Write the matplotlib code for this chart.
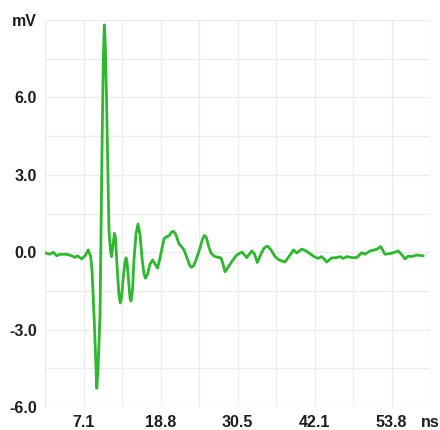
import matplotlib
matplotlib.use('Agg')
import matplotlib.pyplot as plt

# Время, нс
t_ns = [1.25, 2.01, 2.51, 3.03, 3.53, 4.55, 5.31, 5.81, 6.16, 6.83,
        7.33, 7.83, 8.19, 8.39, 8.70, 8.92, 9.12, 9.30, 9.61, 9.91,
        10.11, 10.26, 10.41, 10.60, 10.97, 11.20, 11.35, 11.58, 11.81, 11.96,
        12.19, 12.49, 12.69, 12.87, 13.10, 13.41, 13.56, 13.71, 13.94, 14.17,
        14.32, 14.55, 14.77, 15.08, 15.38, 15.69, 15.99, 16.29, 16.52, 16.83,
        17.21, 17.59, 17.97, 18.35, 18.73, 19.03, 19.33, 19.64, 20.09, 20.47,
        20.78, 21.08, 21.31, 21.61, 21.92, 22.37, 22.83, 23.21, 23.51, 23.82,
        24.20, 24.80, 25.18, 25.49, 25.79, 26.09, 26.47, 26.93, 27.38, 27.99,
        28.29, 28.60, 28.90, 29.62, 30.38, 31.18, 31.90, 32.66, 33.08, 33.51,
        34.07, 34.53, 35.06, 35.59, 36.20, 36.81, 37.72, 38.48, 39.01, 39.49,
        40.26, 40.76, 41.36, 42.13, 42.73, 43.29, 43.64, 44.05, 44.81, 45.57,
        46.07, 46.58, 47.09, 47.90, 48.61, 49.37, 49.87, 50.63, 51.65, 52.26,
        52.91, 53.93, 54.93, 55.50, 55.95, 56.45, 56.97, 57.73, 58.73]

# Напряжение, мВ
u_mv = [-0.03, -0.08, 0.00, -0.14, -0.08, -0.08, -0.14, -0.20, -0.14, -0.26,
        -0.14, 0.09, -0.17, -0.69, -2.43, -3.98, -5.28, -4.57, -2.43, 3.96,
        7.45, 8.81, 8.03, 5.90, 0.86, 0.09, -0.17, 0.28, 0.73, 0.55,
        -0.50, -1.66, -1.97, -1.78, -1.08, -0.38, -0.22, -0.38, -1.08, -1.78,
        -1.89, -1.47, -0.30, 0.71, 1.09, 0.67, -0.22, -0.84, -1.01, -0.84,
        -0.46, -0.30, -0.46, -0.62, -0.22, 0.16, 0.51, 0.59, 0.63, 0.78,
        0.81, 0.71, 0.55, 0.32, 0.24, 0.09, -0.22, -0.50, -0.59, -0.53,
        -0.30, 0.16, 0.51, 0.65, 0.55, 0.24, -0.03, -0.15, -0.19, -0.22,
        -0.46, -0.76, -0.65, -0.37, -0.11, 0.01, -0.21, 0.05, -0.07, -0.40,
        -0.07, 0.16, 0.24, 0.09, -0.17, -0.30, -0.38, -0.11, 0.09, -0.03,
        0.12, 0.07, -0.03, -0.17, -0.24, -0.17, -0.26, -0.38, -0.22, -0.21,
        -0.17, -0.24, -0.17, -0.21, -0.21, -0.02, -0.08, 0.05, 0.11, 0.22,
        -0.08, -0.04, 0.05, -0.11, -0.26, -0.15, -0.17, -0.11, -0.14]

# Подписи осей (каждая вторая линия сетки)
x_labels = ['', '7.1', '', '18.8', '', '30.5', '', '42.1', '', '53.8', 'ns']
y_labels = ['-6.0', '', '-3.0', '', '0.0', '', '3.0', '', '6.0', '', 'mV']


def main():
    fig = plt.figure(figsize=(4.4, 4.3), dpi=100)
    ax = fig.add_axes([45 / 440, 23 / 430, 385 / 440, 387 / 430])

    ax.plot(t_ns, u_mv, color='#2db82d', linewidth=2.0,
            solid_joinstyle='round', solid_capstyle='round')

    x0, dx = 1.25, 5.85
    ax.set_xlim(x0, x0 + dx * 10)
    ax.set_ylim(-6.0, 9.0)
    ax.set_xticks([x0 + dx * k for k in range(11)])
    ax.set_yticks([-6.0 + 1.5 * k for k in range(11)])

    font = dict(family='Liberation Sans', weight='bold', size=11.5, color='#1e1e1e')
    ax.set_xticklabels(x_labels, **font)
    ax.set_yticklabels(y_labels, **font)
    ax.tick_params(length=0)
    ax.tick_params(axis='x', pad=6)
    ax.tick_params(axis='y', pad=6)

    ax.grid(True, color='#ececec', linewidth=1.0)
    ax.set_axisbelow(True)
    for s in ax.spines.values():
        s.set_visible(False)

    fig.savefig('out.png', dpi=100)


if __name__ == '__main__':
    main()
